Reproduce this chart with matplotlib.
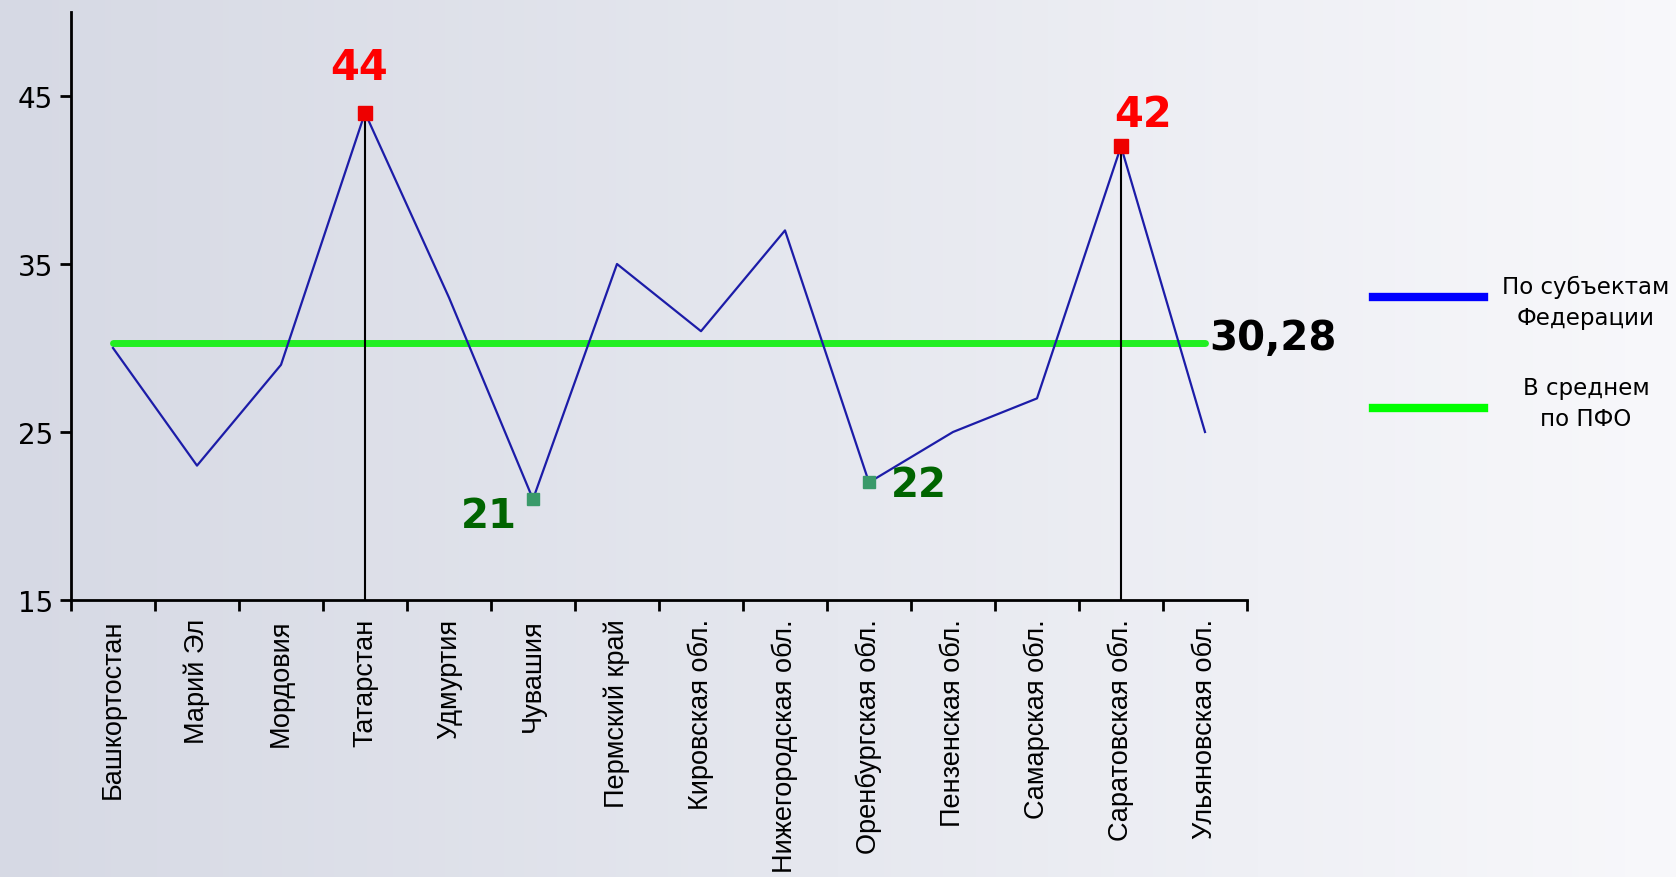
import numpy as np
import matplotlib
matplotlib.use("Agg")
import matplotlib.pyplot as plt
from matplotlib.colors import LinearSegmentedColormap
from matplotlib.lines import Line2D

categories = ["Башкортостан", "Марий Эл", "Мордовия", "Татарстан", "Удмуртия",
              "Чувашия", "Пермский край", "Кировская обл.", "Нижегородская обл.",
              "Оренбургская обл.", "Пензенская обл.", "Самарская обл.",
              "Саратовская обл.", "Ульяновская обл."]
values = [30, 23, 29, 44, 33, 21, 35, 31, 37, 22, 25, 27, 42, 25]
average = 30.28
y_ticks = [15, 25, 35, 45]
max_idx = [3, 12]
min_idx = [5, 9]
legend_labels = ["По субъектам\nФедерации", "В среднем\nпо ПФО"]

W, H = 1676, 878
fig = plt.figure(figsize=(W / 100, H / 100), dpi=100)

# background gradient
bg = fig.add_axes([0, 0, 1, 1], zorder=-10)
cmap = LinearSegmentedColormap.from_list("bg", ["#D6D9E4", "#E6E8EF", "#F8F8FB"])
grad = np.linspace(0, 1, 256).reshape(1, -1)
bg.imshow(grad, aspect="auto", cmap=cmap, extent=[0, 1, 0, 1])
bg.set_axis_off()

ax = fig.add_axes([71 / W, 1 - 601 / H, (1247 - 71) / W, (601 - 13) / H])
ax.patch.set_alpha(0)
n = len(categories)
x = np.arange(n)
ax.set_xlim(-0.5, n - 0.5)
ax.set_ylim(15, 50)

# main series
ax.plot(x, values, color="#1C1CA8", lw=1.6, zorder=3)
# average line
ax.plot([x[0], x[-1]], [average, average], color="#22EE22", lw=5,
        solid_capstyle="round", zorder=2)
# drop lines at maxima
for i in max_idx:
    ax.plot([x[i], x[i]], [15, values[i]], color="black", lw=1.5, zorder=2)
# markers
ax.plot([x[i] for i in max_idx], [values[i] for i in max_idx], "s",
        color="#EE0000", ms=10, zorder=5)
ax.plot([x[i] for i in min_idx], [values[i] for i in min_idx], "s",
        color="#3A9A6A", ms=9, zorder=5)

# annotations
ax.annotate(str(values[max_idx[0]]), (x[max_idx[0]], values[max_idx[0]]),
            xytext=(-4, 33), textcoords="offset points", ha="center",
            va="center", color="#FF0000", fontsize=30, fontweight="bold")
ax.annotate(str(values[max_idx[1]]), (x[max_idx[1]], values[max_idx[1]]),
            xytext=(16, 23), textcoords="offset points", ha="center",
            va="center", color="#FF0000", fontsize=30, fontweight="bold")
ax.annotate(str(values[min_idx[0]]), (x[min_idx[0]], values[min_idx[0]]),
            xytext=(-32, -12), textcoords="offset points", ha="center",
            va="center", color="#006400", fontsize=29, fontweight="bold")
ax.annotate(str(values[min_idx[1]]), (x[min_idx[1]], values[min_idx[1]]),
            xytext=(36, -2), textcoords="offset points", ha="center",
            va="center", color="#006400", fontsize=29, fontweight="bold")
ax.annotate(f"{average:.2f}".replace(".", ","), (x[-1], average),
            xytext=(49, 4), textcoords="offset points", ha="center",
            va="center", color="black", fontsize=29, fontweight="bold")

# axes styling
for s in ["top", "right"]:
    ax.spines[s].set_visible(False)
for s in ["left", "bottom"]:
    ax.spines[s].set_linewidth(2)
ax.set_yticks(y_ticks)
ax.set_yticklabels([str(v) for v in y_ticks], fontsize=20, family="DejaVu Sans")
ax.tick_params(axis="y", length=8, width=2, pad=5)
ax.set_xticks(x)
ax.set_xticklabels(categories, rotation=90, fontsize=19.5,
                   family="Liberation Sans", va="top", ha="center")
ax.set_xticks(np.arange(n + 1) - 0.5, minor=True)
ax.tick_params(axis="x", which="major", length=0, pad=13)
ax.tick_params(axis="x", which="minor", length=8, width=2)

# legend (manual)
fig.add_artist(Line2D([1373 / W, 1484 / W], [1 - 298 / H, 1 - 298 / H],
                      color="#0000FF", lw=6))
fig.add_artist(Line2D([1373 / W, 1484 / W], [1 - 409 / H, 1 - 409 / H],
                      color="#00FF00", lw=6))
fig.text(1586 / W, 1 - 303 / H, legend_labels[0], ha="center", va="center",
         fontsize=16.5, family="DejaVu Sans", linespacing=1.45)
fig.text(1586 / W, 1 - 404 / H, legend_labels[1], ha="center", va="center",
         fontsize=16.5, family="DejaVu Sans", linespacing=1.45)

fig.savefig("out.png", dpi=100)
